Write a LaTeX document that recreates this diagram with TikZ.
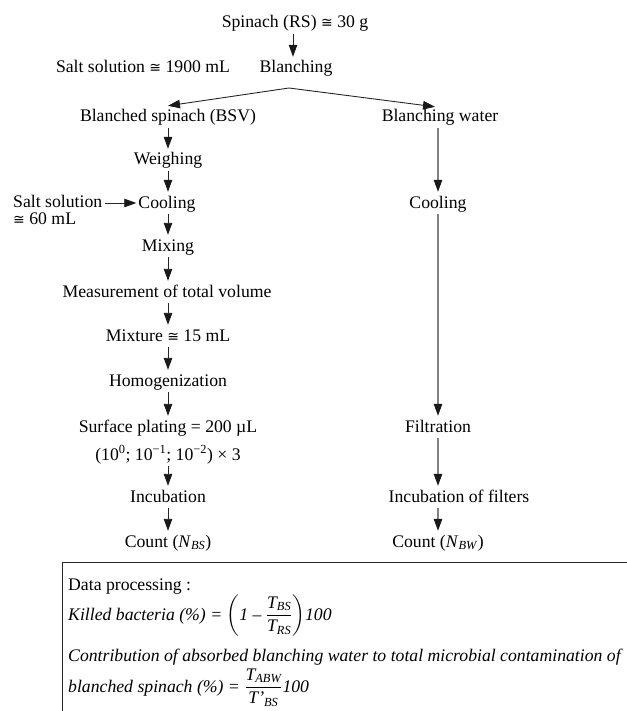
\documentclass[tikz,border=0pt]{standalone}
\usepackage{amsmath}
\usepackage{fontspec}
\setmainfont{Liberation Serif}
\newfontfamily\symf{DejaVu Sans}
\newcommand{\mycong}{{\symf\fontsize{14}{16}\selectfont ≅}}
\usetikzlibrary{arrows.meta,calc}
\begin{document}
\begin{tikzpicture}[x=1pt,y=-1pt,
  every node/.style={font=\fontsize{17.7}{21}\selectfont, text height=13pt, text depth=3pt, inner xsep=2pt, inner ysep=3pt},
  lbl/.style={anchor=center},
  lft/.style={anchor=west, inner xsep=0pt},
  flow/.style={draw=black!85, line width=0.9pt, -{Triangle[length=12pt,width=8.5pt,color=black!90]}},
  gflow/.style={draw=black!50, line width=1.1pt, -{Triangle[length=12pt,width=8.5pt,color=black!90]}},
  boxline/.style={draw=black!85, line width=1pt}
]
\path[use as bounding box] (0,0) rectangle (626,711);

% left column
\node[lbl] (spinach) at (295,23) {Spinach (RS) \mycong{} 30 g};
\node[lbl] (blanch) at (296,68) {Blanching};
\node[lbl] (salt1) at (143,68) {Salt solution \mycong{} 1900 mL};
\coordinate (apex) at (289,88);
\node[lbl] (bsv) at (168,117) {Blanched spinach (BSV)};
\node[lbl] (bw) at (440,117) {Blanching water};
\node[lbl] (weigh) at (168,160) {Weighing};
\node[lbl] (cool1) at (167,203) {Cooling};
\node[lft, text height=11pt, text depth=2pt, inner ysep=1pt] (salt2) at (13,203) {Salt solution};
\node[lft, text height=11pt, text depth=2pt, inner ysep=1pt] (salt2b) at (13,220) {\mycong{} 60 mL};
\node[lbl] (mix) at (168,246) {Mixing};
\node[lbl] (meas) at (167,292) {Measurement of total volume};
\node[lbl] (mixt) at (168,336) {Mixture \mycong{} 15 mL};
\node[lbl] (homog) at (168,381) {Homogenization};
\node[lbl] (plat) at (168,427) {Surface plating = 200 µL};
\node[lbl] (dil) at (168,455) {(10\textsuperscript{0}; 10\textsuperscript{−1}; 10\textsuperscript{−2}) × 3};
\node[lbl] (incub) at (168,497) {Incubation};
\node[lbl] (count1) at (168,542) {Count (\textit{N}\textsubscript{\textit{BS}})};

% right column
\node[lbl] (cool2) at (438,203) {Cooling};
\node[lbl] (filt) at (438,427) {Filtration};
\node[lbl] (incf) at (459,497) {Incubation of filters};
\node[lbl] (count2) at (438,542) {Count (\textit{N}\textsubscript{\textit{BW}})};

% arrows
\draw[flow] (spinach.south -| 293,0) -- (blanch.north -| 293,0);
\draw[flow] (apex) -- (bsv.north);
\draw[flow] (apex) -- ($(bw.north)+(-5,1)$);
\draw[flow] (bsv.south) -- (weigh.north);
\draw[flow] (weigh.south) -- (weigh.south |- cool1.north);
\draw[flow] ($(salt2.east)+(3,0)$) -- (cool1.west);
\draw[flow] (cool1.south -| weigh.south) -- (mix.north);
\draw[flow] (mix.south) -- (mix.south |- meas.north);
\draw[flow] (mix.south |- meas.south) -- (mixt.north);
\draw[flow] (mixt.south) -- (homog.north);
\draw[flow] (homog.south) -- (plat.north);
\draw[flow] (dil.south) -- (incub.north);
\draw[flow] (incub.south) -- (count1.north);

\draw[gflow] (bw.south -| cool2.north) -- (cool2.north);
\draw[gflow] (cool2.south) -- (filt.north);
\draw[gflow] (filt.south) -- (filt.south |- incf.north);
\draw[gflow] (incf.south -| count2.north) -- (count2.north);

% data processing box
\draw[boxline] (62,716) -- (62,562) -- (632,562);
\node[lft] (dp) at (68,585) {Data processing :};
\node[lft, text height=22pt, text depth=14pt] (kb) at (68,616) {\itshape Killed bacteria (\%) = $\left(\text{\itshape 1 – }\dfrac{\text{\itshape T\textsubscript{BS}}}{\text{\itshape T\textsubscript{RS}}}\right)$100};
\node[lft] (contrib) at (68,656) {\itshape Contribution of absorbed blanching water to total microbial contamination of};
\node[lft, text height=22pt, text depth=14pt] (bs) at (68,688) {\itshape blanched spinach (\%) = $\dfrac{\text{\itshape T\textsubscript{ABW}}}{\text{\itshape T'\textsubscript{BS}}}$100};
\end{tikzpicture}
\end{document}
